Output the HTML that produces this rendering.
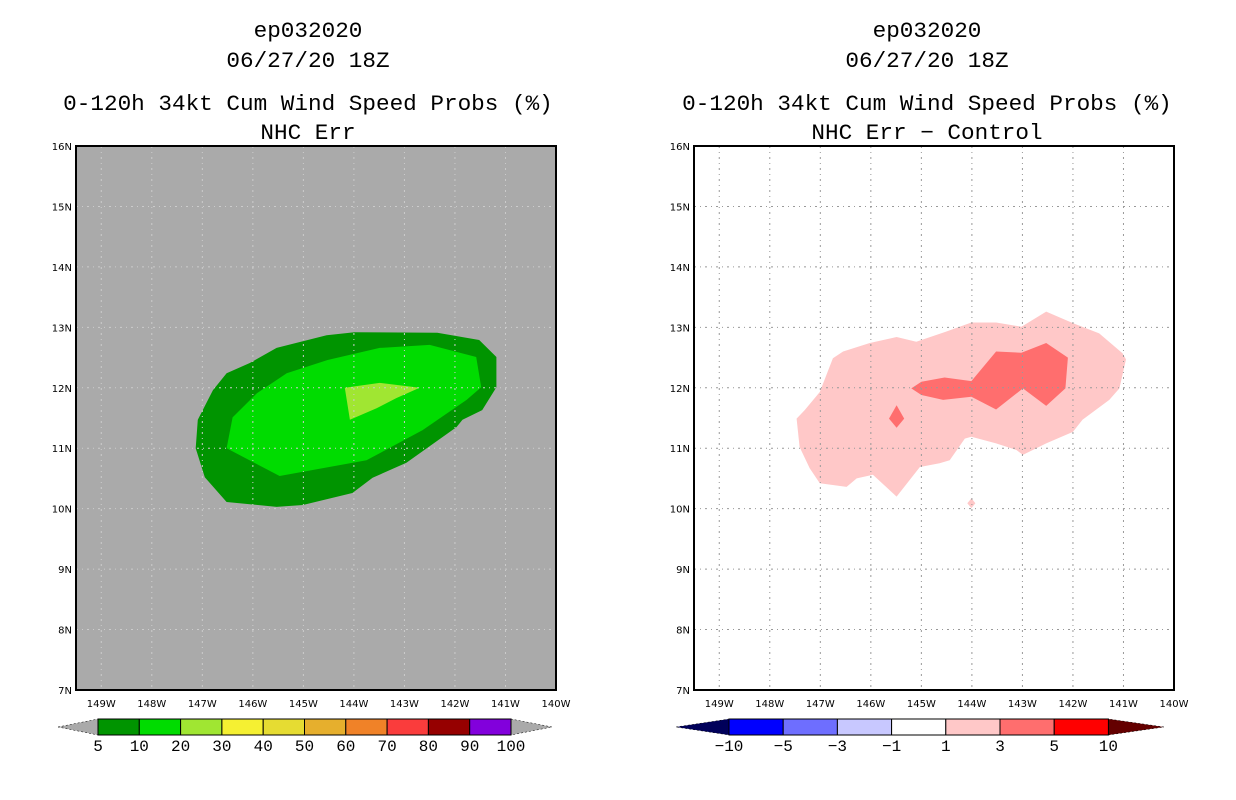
<!DOCTYPE html>
<html><head><meta charset="utf-8"><style>
body{margin:0;background:#fff;}
svg{display:block;font-family:"DejaVu Sans","Liberation Sans",sans-serif;}
.t{font-size:22px;text-anchor:middle;fill:#000;font-family:"Liberation Mono","DejaVu Sans Mono",monospace;}
.tk{font-size:10px;fill:#000;}
.cl{font-size:16px;text-anchor:middle;fill:#000;font-family:"Liberation Mono","DejaVu Sans Mono",monospace;}
</style></head><body>
<svg id="chart" width="1236" height="800" viewBox="0 0 1236 800"></svg>
<script>
const lonTicks=[-149,-148,-147,-146,-145,-144,-143,-142,-141,-140];
const latTicks=[7,8,9,10,11,12,13,14,15,16];
const leftLevels=["5","10","20","30","40","50","60","70","80","90","100"];
const leftColors=["#009400","#00dc00","#a0e632","#f5f032","#e6dc32","#e6af2d","#f08228","#fa3c3c","#960000","#8200dc"];
const rightLevels=["−10","−5","−3","−1","1","3","5","10"];
const rightColors=["#0000ff","#6e6eff","#c8c8ff","#ffffff","#ffc8c8","#ff6e6e","#ff0000"];
const green5=[[-144.54,12.87],[-143.99,12.92],[-142.35,12.91],[-141.52,12.79],[-141.18,12.51],[-141.18,12.01],[-141.46,11.63],[-141.85,11.47],[-141.97,11.35],[-142.96,10.76],[-143.63,10.51],[-144.03,10.26],[-145.01,10.06],[-145.53,10.03],[-146.52,10.11],[-146.95,10.52],[-147.13,11.0],[-147.09,11.47],[-146.79,11.96],[-146.52,12.24],[-146.06,12.41],[-145.53,12.66]];
const green10=[[-144.52,12.46],[-143.49,12.66],[-142.50,12.71],[-141.58,12.51],[-141.48,12.01],[-141.77,11.80],[-142.64,11.30],[-143.75,10.80],[-145.47,10.54],[-146.52,11.0],[-146.40,11.51],[-145.92,11.91],[-145.33,12.24]];
const green20=[[-144.18,12.0],[-143.49,12.08],[-142.70,12.0],[-143.16,11.83],[-143.55,11.66],[-144.08,11.47]];
const pink1=[[-147.47,11.49],[-147.31,11.63],[-147.01,11.93],[-146.75,12.49],[-146.55,12.60],[-146.02,12.74],[-145.49,12.84],[-145.10,12.76],[-144.51,12.93],[-144.01,13.08],[-143.52,13.08],[-143.02,13.01],[-142.53,13.26],[-142.0,13.07],[-141.48,12.90],[-141.02,12.57],[-140.95,12.47],[-141.08,11.99],[-141.28,11.80],[-141.81,11.47],[-142.0,11.27],[-142.53,11.08],[-142.99,10.89],[-143.12,10.97],[-143.52,11.08],[-144.01,11.19],[-144.14,11.16],[-144.44,10.80],[-144.64,10.75],[-145.03,10.69],[-145.49,10.20],[-145.96,10.56],[-146.28,10.50],[-146.48,10.36],[-147.01,10.42],[-147.21,10.67],[-147.41,11.02]];
const pink1b=[[-144.01,10.17],[-143.93,10.09],[-144.01,10.01],[-144.09,10.09]];
const pink3=[[-145.20,11.99],[-145.0,12.10],[-144.54,12.17],[-144.01,12.11],[-143.52,12.60],[-143.02,12.58],[-142.53,12.74],[-142.10,12.50],[-142.15,11.99],[-142.53,11.70],[-142.99,11.99],[-143.52,11.64],[-144.01,11.85],[-144.57,11.80],[-145.0,11.88]];
const pink3b=[[-145.49,11.71],[-145.34,11.49],[-145.49,11.34],[-145.64,11.49]];

const svg=document.getElementById('chart');
const NS='http://www.w3.org/2000/svg';
function mk(tag,attrs,parent){const e=document.createElementNS(NS,tag);for(const k in attrs)e.setAttribute(k,attrs[k]);(parent||svg).appendChild(e);return e;}
const W=480,H=544,TOP=146;
function xs(x0){return lon=>x0+(lon+149.5)/9.5*W;}
function ys(lat){return TOP+(16-lat)/9*H;}

function panel(x0,cx,bg,grid,titles,polys,name){
  const g=mk('g',{});
  
  
  const X=xs(x0);
  titles.forEach((t,i)=>{const e=mk('text',{class:'t',x:cx,y:[37,67,110,139][i],textLength:t.length*13.6,lengthAdjust:'spacingAndGlyphs'},g);e.textContent=t;
    });
  const bgR=mk('rect',{x:x0,y:TOP,width:W,height:H,fill:bg},g);
  
  polys.forEach(([pts,col,nm])=>{const p=mk('polygon',{points:pts.map(q=>X(q[0]).toFixed(1)+','+ys(q[1]).toFixed(1)).join(' '),fill:col},g);
    });
  lonTicks.slice(0,-1).forEach(l=>{const ln=mk('line',{x1:X(l),x2:X(l),y1:TOP,y2:TOP+H,stroke:grid,'stroke-dasharray':'2,4,1,4'},g);
    });
  latTicks.slice(1,-1).forEach(l=>{const ln=mk('line',{x1:x0,x2:x0+W,y1:ys(l),y2:ys(l),stroke:grid,'stroke-dasharray':'2,4,1,4'},g);
    });
  const fr=mk('rect',{x:x0,y:TOP,width:W,height:H,fill:'none',stroke:'#000','stroke-width':2},g);
  
  lonTicks.forEach(l=>{const e=mk('text',{class:'tk',x:X(l),y:TOP+H+17,'text-anchor':'middle'},g);e.textContent=Math.abs(l)+'W';
    });
  latTicks.forEach(l=>{const e=mk('text',{class:'tk',x:x0-4,y:ys(l)+4,'text-anchor':'end'},g);e.textContent=l+'N';
    });
}
function colorbar(x0,bw,tipL,tipR,levels,colors,lc,rc,name){
  const g=mk('g',{});
  
  
  const y0=719,h=16,n=colors.length,x1=x0+n*bw;
  const a=mk('polygon',{points:`${tipL},${y0+h/2} ${x0},${y0} ${x0},${y0+h}`,fill:lc,stroke:'#000','stroke-width':0.5,'stroke-dasharray':'2,2'},g);
  
  const b=mk('polygon',{points:`${tipR},${y0+h/2} ${x1},${y0} ${x1},${y0+h}`,fill:rc,stroke:'#000','stroke-width':0.5,'stroke-dasharray':'2,2'},g);
  
  colors.forEach((c,i)=>{const r=mk('rect',{x:x0+i*bw,y:y0,width:bw,height:h,fill:c,stroke:'#000','stroke-width':1},g);
    });
  levels.forEach((t,i)=>{const e=mk('text',{class:'cl',x:x0+i*bw,y:y0+h+16},g);e.textContent=t;
    });
}
panel(76,308,'#aaaaaa','#cccccc',['ep032020','06/27/20 18Z','0-120h 34kt Cum Wind Speed Probs (%)','NHC Err'],
  [[green5,'#009400','contour-5'],[green10,'#00dc00','contour-10'],[green20,'#a0e632','contour-20']],'left-panel');
panel(694,927,'#ffffff','#999999',['ep032020','06/27/20 18Z','0-120h 34kt Cum Wind Speed Probs (%)','NHC Err − Control'],
  [[pink1,'#ffc8c8','contour-1'],[pink1b,'#ffc8c8','contour-1-small'],[pink3,'#ff6e6e','contour-3'],[pink3b,'#ff6e6e','contour-3-small']],'right-panel');
colorbar(98,41.3,58,552,leftLevels,leftColors,'#aaaaaa','#aaaaaa','left-colorbar');
colorbar(729,54.2,676,1164,rightLevels,rightColors,'#00005a','#640000','right-colorbar');
</script>
</body></html>
